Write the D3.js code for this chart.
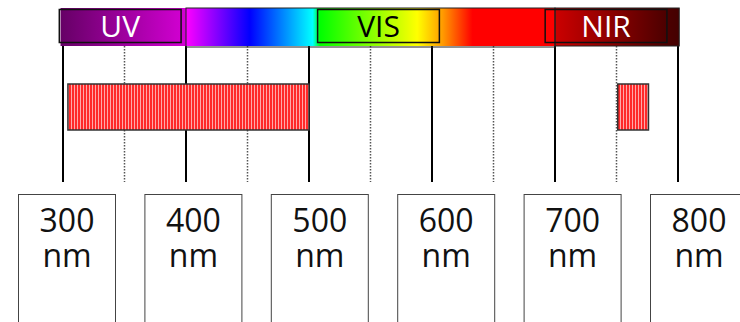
<!DOCTYPE html>
<html lang="en">
<head>
<meta charset="utf-8">
<title>Spectrum</title>
<style type="text/css">
  body { margin: 0; background: #fff; }
  text { font-family: "Open Sans", sans-serif; }
</style>
</head>
<body>
<script src="https://cdn.jsdelivr.net/npm/d3@7/dist/d3.min.js"></script>
<script>

    var w = 740;
    var h = 322;

    // wavelength ticks (nm)
    var majorTicks = [300, 400, 500, 600, 700, 800];
    var minorTicks = [350, 450, 550, 650, 750];

    // spectrum colour stops (nm, colour)
    var stopNm = [298, 400, 400, 452, 503, 509, 588, 609, 633, 700, 700, 790, 801];
    var stopColor = ["#660066", "#d400d4", "#ff00ff", "#0000ff", "#00ffff", "#00ff00",
                     "#ffff00", "#ff9900", "#ff0000", "#ff0000", "#cc0000", "#4d0000", "#440000"];

    // region labels
    var regionName = ["UV", "VIS", "NIR"];
    var regionStart = [297, 507, 692];
    var regionEnd = [396, 606, 791];
    var regionTextColor = ["#fff", "#000", "#fff"];

    // measured ranges (nm)
    var bandStart = [304, 751];
    var bandEnd = [500, 776];

    var x = d3.scaleLinear().domain([300, 800]).range([63, 678]);
    // label boxes below are spaced a bit wider than the ticks
    var xLabel = d3.scaleLinear().domain([300, 800]).range([67, 699]);

    var svg = d3.select("body")
            .append("svg")
            .attr("width", w)
            .attr("height", h);

    var defs = svg.append("defs");

    var grad = defs.append("linearGradient")
        .attr("id", "spec")
        .attr("gradientUnits", "userSpaceOnUse")
        .attr("x1", x(298)).attr("x2", x(801))
        .attr("y1", 0).attr("y2", 0);

    grad.selectAll("stop")
        .data(stopNm)
        .enter()
        .append("stop")
        .attr("offset", function(d){ return (d - 298) / (801 - 298); })
        .attr("stop-color", function(d, i){ return stopColor[i]; });

    var pat = defs.append("pattern")
        .attr("id", "stripes")
        .attr("patternUnits", "userSpaceOnUse")
        .attr("width", 3).attr("height", 10);
    pat.append("rect").attr("width", 3).attr("height", 10).attr("fill", "#ff2a2a");
    pat.append("rect").attr("x", 2).attr("width", 1).attr("height", 10).attr("fill", "#ffaaaa");

    // grid lines
    svg.selectAll("line.minor")
        .data(minorTicks)
        .enter()
        .append("line")
        .attr("class", "minor")
        .attr("x1", function(d){ return x(d); })
        .attr("x2", function(d){ return x(d); })
        .attr("y1", 46).attr("y2", 182)
        .attr("stroke", "#555")
        .attr("stroke-width", 1.5)
        .attr("stroke-dasharray", "1.5,1.5");

    svg.selectAll("line.major")
        .data(majorTicks)
        .enter()
        .append("line")
        .attr("class", "major")
        .attr("x1", function(d){ return x(d); })
        .attr("x2", function(d){ return x(d); })
        .attr("y1", 46).attr("y2", 182)
        .attr("stroke", "#000")
        .attr("stroke-width", 2);

    // spectrum bar
    svg.append("rect")
        .attr("x", x(298)).attr("y", 8)
        .attr("width", x(801) - x(298)).attr("height", 38)
        .attr("fill", "url(#spec)");

    svg.append("rect")
        .attr("x", x(400)).attr("y", 8)
        .attr("width", x(700) - x(400)).attr("height", 39)
        .attr("fill", "none")
        .attr("stroke", "#222")
        .attr("stroke-width", 1);

    svg.append("rect")
        .attr("x", x(700)).attr("y", 8)
        .attr("width", x(801) - x(700)).attr("height", 38)
        .attr("fill", "none")
        .attr("stroke", "#222")
        .attr("stroke-width", 1);

    svg.selectAll("rect.region")
        .data(regionName)
        .enter()
        .append("rect")
        .attr("class", "region")
        .attr("x", function(d, i){ return x(regionStart[i]); })
        .attr("y", 9.5)
        .attr("width", function(d, i){ return x(regionEnd[i]) - x(regionStart[i]); })
        .attr("height", 33)
        .attr("fill", "none")
        .attr("stroke", "#111")
        .attr("stroke-width", 1.5);

    svg.selectAll("text.region")
        .data(regionName)
        .enter()
        .append("text")
        .attr("class", "region")
        .attr("x", function(d, i){ return (x(regionStart[i]) + x(regionEnd[i])) / 2; })
        .attr("y", 37)
        .attr("text-anchor", "middle")
        .attr("font-size", 30)
        .attr("fill", function(d, i){ return regionTextColor[i]; })
        .text(function(d){ return d; });

    // measured bands
    svg.selectAll("rect.band")
        .data(bandStart)
        .enter()
        .append("rect")
        .attr("class", "band")
        .attr("x", function(d){ return x(d); })
        .attr("y", 84)
        .attr("width", function(d, i){ return x(bandEnd[i]) - x(d); })
        .attr("height", 46)
        .attr("fill", "url(#stripes)")
        .attr("stroke", "#333")
        .attr("stroke-width", 1.5);

    // wavelength label boxes
    var lab = svg.selectAll("g.lab")
        .data(majorTicks)
        .enter()
        .append("g")
        .attr("class", "lab")
        .attr("transform", function(d){ return "translate(" + xLabel(d) + ",0)"; });

    lab.append("rect")
        .attr("x", -48.5).attr("y", 194.5)
        .attr("width", 97).attr("height", 140)
        .attr("fill", "#fff")
        .attr("stroke", "#444")
        .attr("stroke-width", 1);

    lab.append("text")
        .attr("y", 232)
        .attr("text-anchor", "middle")
        .attr("font-size", 32)
        .attr("fill", "#111")
        .text(function(d){ return d; });

    lab.append("text")
        .attr("y", 267)
        .attr("text-anchor", "middle")
        .attr("font-size", 32)
        .attr("fill", "#111")
        .text("nm");

</script>
</body>
</html>
